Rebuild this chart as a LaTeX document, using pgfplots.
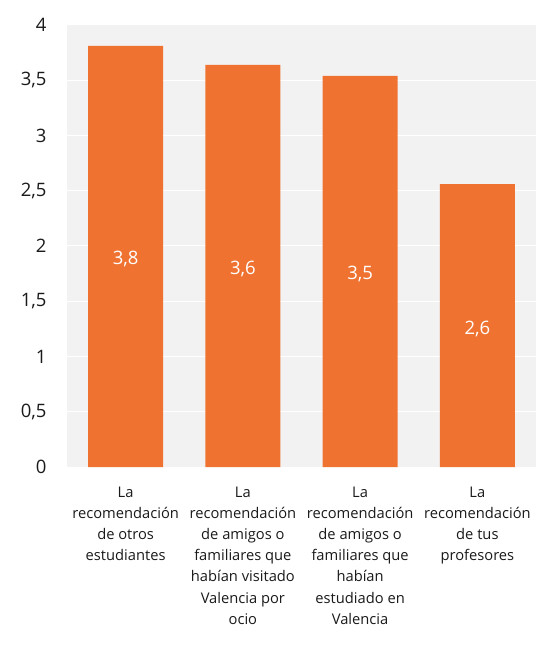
\documentclass[border=0pt]{standalone}
\usepackage{pgfplots}
\pgfplotsset{compat=1.18}
\usepackage{fontspec}
\setmainfont{Open Sans}
\definecolor{barorange}{HTML}{EF7230}
\definecolor{plotbg}{HTML}{F2F2F2}
\definecolor{txt}{HTML}{1A1A1A}
\begin{document}
\begin{tikzpicture}
\begin{axis}[name=ax, scale only axis, width=469pt, height=442pt,
  ymin=0, ymax=4, ytick distance=0.5,
  xmin=-0.5, xmax=3.5, xtick={0,1,2,3},
  xticklabels={{La\\recomendación\\de otros\\estudiantes},
               {La\\recomendación\\de amigos o\\familiares que\\habían visitado\\Valencia por\\ocio},
               {La\\recomendación\\de amigos o\\familiares que\\habían\\estudiado en\\Valencia},
               {La\\recomendación\\de tus\\profesores}},
  xticklabel style={align=center, font=\fontsize{14.7}{21.2}\selectfont, text=txt, yshift=-16pt},
  yticklabel style={font=\fontsize{18.5}{22}\selectfont, text=txt, xshift=-17pt},
  /pgf/number format/use comma,
  /pgf/number format/assume math mode=true,
  axis background/.style={fill=plotbg},
  ymajorgrids, grid style={white, line width=1pt},
  axis line style={draw=none}, major tick length=0pt,
  clip=false]
\addplot[ybar, bar width=75pt, fill=barorange, draw=none]
  coordinates {(0,3.81) (1,3.64) (2,3.54) (3,2.56)};
\addplot[draw=none, mark=none, nodes near coords, point meta=explicit,
  nodes near coords={\pgfmathprintnumber[fixed, fixed zerofill, precision=1, use comma]{\pgfplotspointmeta}},
  every node near coord/.append style={anchor=center, text=white, font=\fontsize{18.5}{22}\selectfont, yshift=-3pt}]
  coordinates {(0,1.905)[3.81] (1,1.82)[3.64] (2,1.77)[3.54] (3,1.28)[2.56]};
\end{axis}
\path ([xshift=-67pt,yshift=-187pt]ax.south west) rectangle ([xshift=5pt,yshift=25pt]ax.north east);
\end{tikzpicture}
\end{document}
